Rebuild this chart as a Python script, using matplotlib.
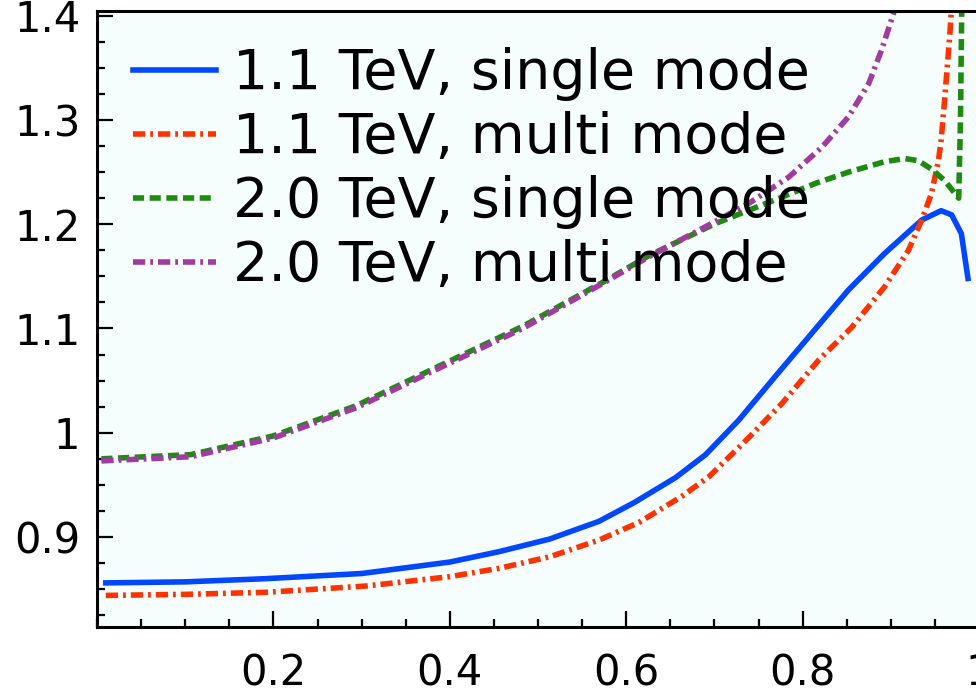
import matplotlib
matplotlib.use('Agg')
import matplotlib.pyplot as plt
from matplotlib.ticker import MultipleLocator

# 1.1 TeV, single mode
bx = [0.01, 0.1, 0.19, 0.3, 0.4, 0.456, 0.513, 0.569, 0.609, 0.656, 0.69, 0.7275,
      0.769, 0.81, 0.852, 0.893, 0.935, 0.957, 0.969, 0.98, 0.9875]
by = [0.856, 0.857, 0.860, 0.865, 0.876, 0.886, 0.898, 0.915, 0.933, 0.957, 0.979, 1.012,
      1.054, 1.095, 1.137, 1.172, 1.204, 1.213, 1.209, 1.191, 1.148]

# 1.1 TeV, multi mode
rx = [0.01, 0.1, 0.192, 0.305, 0.4, 0.456, 0.513, 0.569, 0.6145, 0.663, 0.694, 0.735,
      0.7765, 0.818, 0.8556, 0.893, 0.92, 0.935, 0.946, 0.954, 0.957, 0.961, 0.967, 0.972]
ry = [0.844, 0.845, 0.847, 0.853, 0.862, 0.870, 0.881, 0.897, 0.914, 0.939, 0.958, 0.992,
      1.028, 1.0695, 1.101, 1.140, 1.175, 1.204, 1.229, 1.261, 1.280, 1.319, 1.383, 1.45]

# 2.0 TeV, single mode
gx = [0.005, 0.106, 0.2, 0.294, 0.388, 0.4825, 0.577, 0.626, 0.701, 0.7765, 0.814, 0.852,
      0.893, 0.916, 0.931, 0.946, 0.961, 0.977, 0.979, 0.981]
gy = [0.975, 0.979, 0.997, 1.026, 1.064, 1.102, 1.146, 1.170, 1.2006, 1.226, 1.239, 1.250,
      1.260, 1.263, 1.261, 1.253, 1.242, 1.225, 1.30, 1.45]

# 2.0 TeV, multi mode
mx = [0.005, 0.106, 0.2, 0.294, 0.388, 0.4825, 0.577, 0.626, 0.682, 0.739, 0.784, 0.822,
      0.852, 0.875, 0.8895, 0.903, 0.915]
my = [0.973, 0.977, 0.995, 1.024, 1.062, 1.100, 1.145, 1.169, 1.194, 1.220, 1.245, 1.274,
      1.303, 1.335, 1.367, 1.402, 1.44]

labels = ['1.1 TeV, single mode', '1.1 TeV, multi mode',
          '2.0 TeV, single mode', '2.0 TeV, multi mode']
xticks = [0.2, 0.4, 0.6, 0.8, 1.0]
xticklabels = ['0.2', '0.4', '0.6', '0.8', '1']
yticks = [0.9, 1.0, 1.1, 1.2, 1.3, 1.4]
yticklabels = ['0.9', '1', '1.1', '1.2', '1.3', '1.4']

fig = plt.figure(figsize=(9.76, 6.95), dpi=100)
ax = fig.add_axes([97 / 976, 68 / 695, 882 / 976, 616.5 / 695])
ax.set_facecolor('#f6fdfd')

lw = 4.0
ax.plot(bx, by, color='#0047ff', lw=lw, label=labels[0])
ax.plot(rx, ry, color='#ff3300', lw=lw, dashes=(2.2, 0.9, 0.5, 0.9), label=labels[1])
ax.plot(gx, gy, color='#1e8a10', lw=lw, dashes=(2.0, 1.0), label=labels[2])
ax.plot(mx, my, color='#a03ca0', lw=lw, dashes=(2.2, 0.9, 0.5, 0.9), label=labels[3])

ax.set_xlim(0, 1)
ax.set_ylim(0.8137, 1.405)
ax.set_xticks(xticks)
ax.set_xticklabels(xticklabels)
ax.set_yticks(yticks)
ax.set_yticklabels(yticklabels)
ax.xaxis.set_minor_locator(MultipleLocator(0.05))
ax.yaxis.set_minor_locator(MultipleLocator(0.025))
ax.tick_params(which='both', direction='in', width=1.6, labelsize=30,
               top=False, right=False)
ax.tick_params(which='major', length=11.5)
ax.tick_params(which='minor', length=6)
ax.tick_params(axis='x', pad=18)
ax.tick_params(axis='y', pad=12)
for s in ax.spines.values():
    s.set_linewidth(2.2)

ax.legend(loc='upper left', bbox_to_anchor=(0.041, 0.94), frameon=False,
          fontsize=40, borderpad=0, borderaxespad=0, handlelength=1.5,
          handletextpad=0.3, labelspacing=0.18)

fig.savefig('out.png', dpi=100)
